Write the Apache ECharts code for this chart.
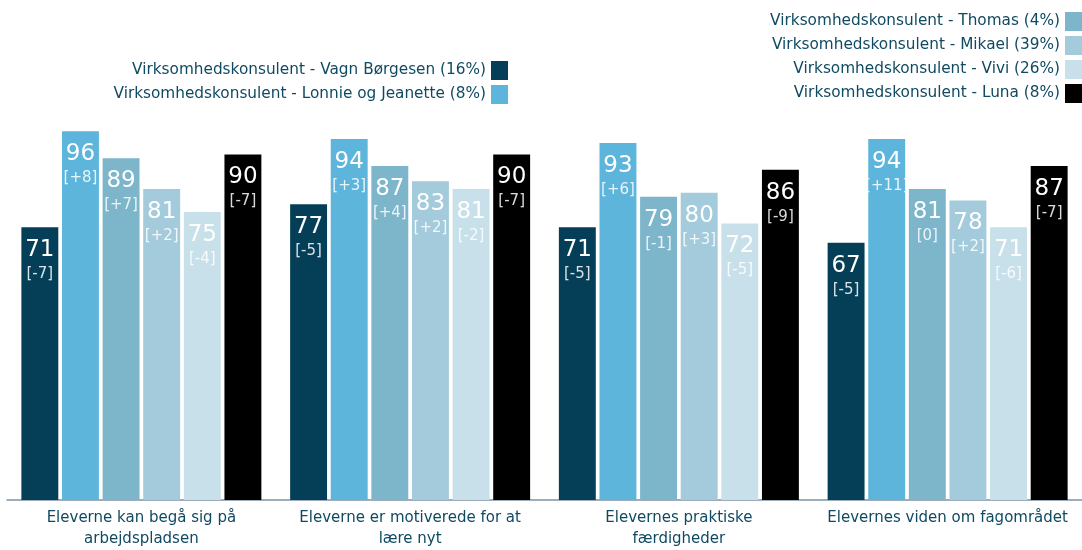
<!DOCTYPE html>
<html>
<head>
<meta charset="utf-8">
<style>
  html, body { margin: 0; padding: 0; background: #fff; }
  #chart { width: 1082px; height: 550px; }
</style>
<script src="https://cdn.jsdelivr.net/npm/echarts@6/dist/echarts.min.js"></script>
</head>
<body>
<div id="chart"></div>
<script>
const categories = [
  'Eleverne kan begå sig på\narbejdspladsen',
  'Eleverne er motiverede for at\nlære nyt',
  'Elevernes praktiske\nfærdigheder',
  'Elevernes viden om fagområdet'
]

const seriesNames = [
  'Virksomhedskonsulent - Vagn Børgesen (16%)',
  'Virksomhedskonsulent - Lonnie og Jeanette (8%)',
  'Virksomhedskonsulent - Thomas (4%)',
  'Virksomhedskonsulent - Mikael (39%)',
  'Virksomhedskonsulent - Vivi (26%)',
  'Virksomhedskonsulent - Luna (8%)'
]

// one row per series, one value per category
const values = [
  [71, 77, 71, 67],
  [96, 94, 93, 94],
  [89, 87, 79, 81],
  [81, 83, 80, 78],
  [75, 81, 72, 71],
  [90, 90, 86, 87]
]

const deltas = [
  ['-7', '-5', '-5', '-5'],
  ['+8', '+3', '+6', '+11'],
  ['+7', '+4', '-1', '0'],
  ['+2', '+2', '+3', '+2'],
  ['-4', '-2', '-5', '-6'],
  ['-7', '-7', '-9', '-7']
]

const colors = ['#043f57', '#5db5dc', '#7db5cb', '#a3cbdb', '#c8e0ea', '#000000']
const textColor = '#0f4a62'
const fontFamily = 'DejaVu Sans, Verdana, sans-serif'

const chart = echarts.init(document.getElementById('chart'))

const series = values.map((data, i) => ({
  name: seriesNames[i],
  type: 'bar',
  data,
  itemStyle: { color: colors[i] },
  barGap: '10%',
  barCategoryGap: '10.7%',
  label: {
    show: true,
    position: 'insideTop',
    distance: 9,
    formatter: p => `{v|${p.value}}\n{d|[${deltas[i][p.dataIndex]}]}`,
    rich: {
      v: { fontSize: 23, color: '#fff', fontFamily, lineHeight: 28 },
      d: { fontSize: 15, color: 'rgba(255,255,255,0.85)', fontFamily, lineHeight: 20 }
    }
  }
}))

const legendBase = {
  orient: 'vertical',
  align: 'right',
  padding: 0,
  itemWidth: 17,
  itemHeight: 19,
  itemGap: 5,
  icon: 'rect',
  textStyle: { color: textColor, fontSize: 15.3, fontFamily },
  selectedMode: false
}

chart.setOption({
  animation: false,
  color: colors,
  legend: [
    { ...legendBase, data: seriesNames.slice(0, 2), right: 574, top: 61 },
    { ...legendBase, data: seriesNames.slice(2), right: 0, top: 12 }
  ],
  grid: { left: 7, right: 0, top: 116, bottom: 50, containLabel: false },
  xAxis: {
    type: 'category',
    data: categories,
    axisLine: { lineStyle: { color: '#7d93a9', width: 1.5 } },
    axisTick: { show: false },
    axisLabel: {
      color: textColor,
      fontSize: 15,
      fontFamily,
      lineHeight: 21,
      margin: 8,
      interval: 0
    }
  },
  yAxis: {
    type: 'value',
    min: 0,
    max: 100,
    show: false
  },
  series
})
</script>
</body>
</html>
